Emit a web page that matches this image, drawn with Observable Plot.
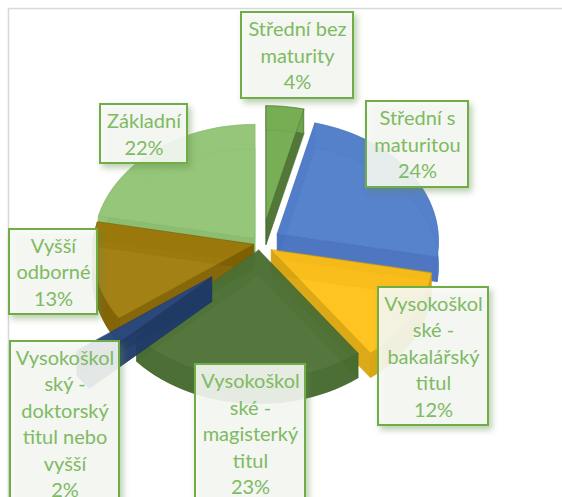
<!DOCTYPE html>
<html><head><meta charset="utf-8">
<style>
html,body{margin:0;padding:0;background:#fff;overflow:hidden}
svg{display:block}
g[aria-label="rect"]{filter:drop-shadow(3px 4px 3px rgba(95,140,70,.45))}
</style>
<script src="https://cdn.jsdelivr.net/npm/d3@7"></script>
<script src="https://cdn.jsdelivr.net/npm/@observablehq/plot@0.6"></script>
</head><body>
<div id="chart"></div>
<script>
// --- data ---
const categories = ["Střední bez maturity","Střední s maturitou","Vysokoškolské - bakalářský titul","Vysokoškolské - magisterký titul","Vysokoškolský - doktorský titul nebo vyšší","Vyšší odborné","Základní"];
const shares = [4,24,12,23,2,13,22];
const wrappedLabels = [
  ["Střední bez","maturity"],["Střední s","maturitou"],
  ["Vysokoškol","ské -","bakalářský","titul"],["Vysokoškol","ské -","magisterký","titul"],
  ["Vysokoškol","ský -","doktorský","titul nebo","vyšší"],["Vyšší","odborné"],["Základní"]];
// --- style / layout ---
const topColors  = ["#72ab4e","#4f7cc9","#ffc117","#4d7034","#2a4b80","#a07b0a","#91c374"];
const wallColors = ["#466b2e","#4670bd","#d6a20e","#466a2f","#1f3a66","#7d5e00","#86ba68"];
const explode = [28,21,14,8,62,6,7.5];
const nudgeX = [3,0,0,0,0,0,0];
const paintOrder = [0,1,6,2,5,3,4];
const boxes = [[241,353,12,98],[366,468,101,187],[378,488,287,425],[195,305,364,503],[10,119,341,505],[9,97,229,314],[100,187,104,163]];
const W = 562, H = 497, CX = 259, CY = 243, RX = 161, RY = 121.5, PERSP = .06, DEPTH = 24.5, LINE = 26.5;

const rad = d => d * Math.PI / 180;
let acc = 0;
const slices = shares.map((v, i) => {
  const a0 = rad(acc * 3.6); acc += v; const a1 = rad(acc * 3.6);
  const mid = (a0 + a1) / 2;
  return {i, a0, a1, ox: CX + nudgeX[i] + explode[i] * Math.sin(mid), oy: CY - .85 * explode[i] * Math.cos(mid)};
});
const pt = (s, a, d) => {
  const k = 1 - PERSP * Math.cos(a);
  return {x: s.ox + RX * k * Math.sin(a), y: s.oy - RY * k * Math.cos(a) + d};
};
const arc = (s, d) => {
  const n = Math.max(2, Math.ceil((s.a1 - s.a0) / rad(3)));
  return d3.range(n + 1).map(j => pt(s, s.a0 + (s.a1 - s.a0) * j / n, d));
};
const apex = (s, d) => ({x: s.ox, y: s.oy + d});
const face = (pts, fill, fillOpacity, stroke, strokeOpacity = .45) =>
  Plot.line(pts, {x: "x", y: "y", curve: "linear-closed", fill, fillOpacity, stroke, strokeWidth: 1, strokeOpacity});

const sliceMarks = paintOrder.flatMap(i => {
  const s = slices[i], c = topColors[i], w = wallColors[i];
  const topArc = arc(s, 0), botArc = arc(s, DEPTH);
  const outerFront = Math.cos((s.a0 + s.a1) / 2) < .2;
  return [
    face([apex(s, DEPTH), ...botArc], c, .75, w, .5),
    face([pt(s, s.a0, 0), pt(s, s.a0, DEPTH), apex(s, DEPTH), apex(s, 0)], w, .85, w),
    face([pt(s, s.a1, 0), pt(s, s.a1, DEPTH), apex(s, DEPTH), apex(s, 0)], w, .85, w),
    face([...topArc, ...botArc.slice().reverse()], outerFront ? w : c, outerFront ? .9 : .8, w, .4),
    face([apex(s, 0), ...topArc], c, .82, w, .4)
  ];
});

const boxData = boxes.map(([x1, x2, y1, y2]) => ({x1, x2, y1, y2}));
const textData = boxes.flatMap(([x1, x2, y1, y2], i) => {
  const lines = [...wrappedLabels[i], shares[i] + "%"];
  const cy = (y1 + y2) / 2 + 1;
  return lines.map((t, j) => ({t, x: (x1 + x2) / 2, y: cy + (j - (lines.length - 1) / 2) * LINE}));
});

const plot = Plot.plot({
  width: W, height: H, margin: 0,
  x: {axis: null, domain: [0, W], range: [0, W]},
  y: {axis: null, domain: [0, H], range: [0, H]},
  style: {background: "#fff"},
  marks: [
    Plot.ruleX([8], {stroke: "#d9d9d9", strokeWidth: 1.6, y1: 8, y2: H}),
    Plot.ruleY([8], {stroke: "#d9d9d9", strokeWidth: 1.6, x1: 8, x2: W}),
    ...sliceMarks,
    Plot.rect(boxData, {x1: "x1", x2: "x2", y1: "y1", y2: "y2", fill: "#fafcf9", fillOpacity: .88, stroke: "#70ad47", strokeWidth: 2}),
    Plot.text(textData, {x: "x", y: "y", text: "t", fill: "#7fba63", fontSize: 20, fontFamily: "Lato, 'Open Sans', sans-serif", textAnchor: "middle", lineAnchor: "middle"})
  ]
});
document.getElementById("chart").append(plot);
</script>
</body></html>
